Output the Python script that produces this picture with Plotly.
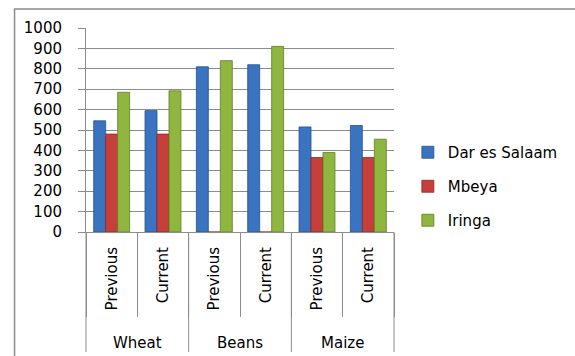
import plotly.graph_objects as go

crops = ["Wheat", "Wheat", "Beans", "Beans", "Maize", "Maize"]
periods = ["Previous", "Current", "Previous", "Current", "Previous", "Current"]

dar_es_salaam = [545, 595, 810, 820, 515, 522]
mbeya = [480, 480, 0, 0, 365, 365]
iringa = [685, 692, 840, 910, 390, 455]

series = [
    ("Dar es Salaam", dar_es_salaam, "#3A74C0", "#24508C"),
    ("Mbeya", mbeya, "#C63F3B", "#8E2724"),
    ("Iringa", iringa, "#8FB63F", "#5F7E26"),
]

y_ticks = list(range(0, 1001, 100))

FONT = "'DejaVu Sans', sans-serif"
GRID = "#8C8C8C"

# one unique category per crop/period pair
keys = [f"{c} / {p}" for c, p in zip(crops, periods)]

fig = go.Figure()
for name, vals, color, edge in series:
    fig.add_trace(go.Bar(
        x=keys,
        y=vals,
        name=name,
        legendgroup=name,
        marker=dict(color=color, line=dict(color=edge, width=0.8)),
    ))

fig.update_layout(
    width=575,
    height=356,
    margin=dict(l=86, r=179, t=28, b=124),
    paper_bgcolor="white",
    plot_bgcolor="white",
    barmode="group",
    bargap=0.3,
    bargroupgap=0,
    font=dict(family=FONT, size=15, color="#000000"),
    showlegend=True,
    legend=dict(
        x=1.045, xanchor="left",
        y=0.223, yanchor="middle",
        font=dict(family=FONT, size=15, color="#000000"),
        tracegroupgap=11.5,
        itemwidth=30,
        bgcolor="rgba(0,0,0,0)",
    ),
)

fig.update_yaxes(
    range=[0, 1000],
    tickvals=y_ticks,
    showgrid=True,
    gridcolor=GRID,
    gridwidth=1,
    showline=True,
    linecolor=GRID,
    ticks="outside",
    ticklen=7,
    tickcolor=GRID,
    ticklabelstandoff=13,
    tickfont=dict(family=FONT, size=15),
    zeroline=False,
)

fig.update_xaxes(
    type="category",
    categoryorder="array",
    categoryarray=keys,
    tickvals=keys,
    ticktext=periods,
    tickson="boundaries",
    showline=True,
    linecolor=GRID,
    ticks="outside",
    ticklen=84,
    tickcolor=GRID,
    tickangle=-90,
    ticklabelstandoff=8,
    tickfont=dict(family=FONT, size=15),
    showgrid=False,
)

# crop group labels and the dividers between groups
n_cats = len(periods)
groups = list(dict.fromkeys(crops))
per_group = n_cats // len(groups)
for g, crop in enumerate(groups):
    fig.add_annotation(
        text=crop, xref="paper", yref="paper",
        x=(g + 0.5) * per_group / n_cats, y=-0.544,
        xanchor="center", yanchor="middle",
        showarrow=False,
        font=dict(family=FONT, size=15, color="#000000"),
    )
for k in range(0, n_cats + 1, per_group):
    fig.add_shape(
        type="line", xref="paper", yref="paper",
        x0=k / n_cats, x1=k / n_cats, y0=0, y1=-0.588,
        line=dict(color=GRID, width=1),
    )

# outer chart frame (extends past the right and bottom edges of the page)
fig.add_shape(
    type="rect", xref="paper", yref="paper",
    x0=-0.232, x1=1.62, y0=-0.75, y1=1.093,
    line=dict(color=GRID, width=1.5),
    fillcolor="rgba(0,0,0,0)",
    layer="below",
)

fig.write_html("out.html")
